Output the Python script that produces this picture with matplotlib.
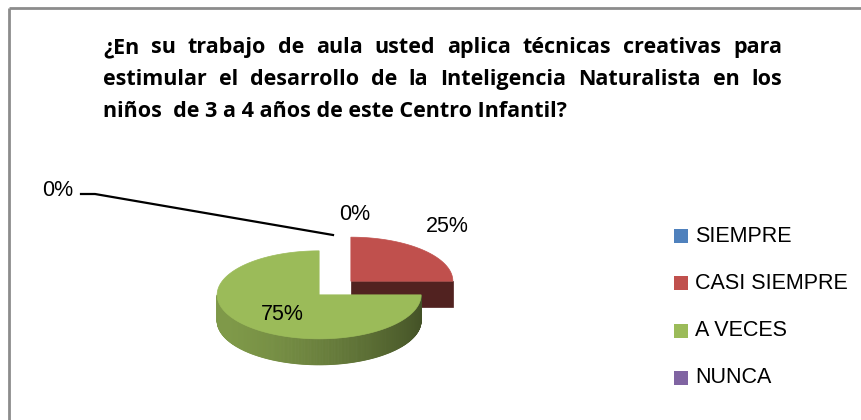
import numpy as np
import matplotlib.pyplot as plt
from matplotlib.patches import Polygon, Rectangle
from matplotlib.colors import to_rgb

plt.rcParams['font.family'] = ['Liberation Sans', 'DejaVu Sans']

# ---------------------------------------------------------
# data
# ---------------------------------------------------------
categories = ["SIEMPRE", "CASI SIEMPRE", "A VECES", "NUNCA"]
values = [0, 25, 75, 0]
colors = ["#4F81BD", "#C0504D", "#9BBB59", "#8064A2"]
title_lines = [
    "¿En su trabajo de aula usted aplica técnicas creativas para",
    "estimular el desarrollo de la Inteligencia Naturalista  en los",
    "niños  de 3 a 4 años de este Centro Infantil?",
]

# label positions (pixels) for each category's percentage
label_pos = [(355, 214), (447, 226), (282, 314), (58, 190)]

# ---------------------------------------------------------
# figure: one axes in pixel coordinates
# ---------------------------------------------------------
W, H = 862, 420
fig = plt.figure(figsize=(W / 100, H / 100), dpi=100)
ax = fig.add_axes([0, 0, 1, 1])
ax.set_xlim(0, W)
ax.set_ylim(H, 0)
ax.axis('off')

# chart frame (only left and top visible)
ax.plot([9, 9], [H, 7.5], color="#8C8C8C", lw=2, solid_capstyle='butt')
ax.plot([9, W], [7.5, 7.5], color="#8C8C8C", lw=2, solid_capstyle='butt')

# ---------------------------------------------------------
# title, justified like the original
# ---------------------------------------------------------
renderer = fig.canvas.get_renderer()
x0, x1 = 103, 782
title_base = [53, 85, 117]
title_kw = dict(fontsize=15.5, fontweight='bold', va='baseline', ha='left',
                color='black', family=['Open Sans', 'DejaVu Sans'])
for i, line in enumerate(title_lines):
    if i < len(title_lines) - 1:
        words = line.split()
        texts = [ax.text(0, title_base[i], w, **title_kw) for w in words]
        widths = [t.get_window_extent(renderer).width for t in texts]
        gap = (x1 - x0 - sum(widths)) / (len(words) - 1)
        x = x0
        for t, w in zip(texts, widths):
            t.set_x(x)
            x += w + gap
    else:
        ax.text(x0, title_base[i], line, **title_kw)

# ---------------------------------------------------------
# 3D pie (exploded, Excel style)
# ---------------------------------------------------------
cx, cy = 335, 288
rx, ry = 102, 44
depth = 26
explode = 0.22


def shade(c, f):
    r, g, b = to_rgb(c)
    return (r * f, g * f, b * f)


def pt(ox, oy, t, dz=0.0):
    return (ox + rx * np.cos(t), oy - ry * np.sin(t) + dz)


total = sum(values)
fracs = [v / total for v in values]
cum = np.concatenate([[0], np.cumsum(fracs)])
slices = []
for i, f in enumerate(fracs):
    if f == 0:
        continue
    ts = np.deg2rad(90 - cum[i] * 360)
    te = np.deg2rad(90 - cum[i + 1] * 360)
    mid = 0.5 * (ts + te)
    ox = cx + explode * rx * np.cos(mid)
    oy = cy - explode * ry * np.sin(mid)
    slices.append((np.sin(mid), i, ts, te, ox, oy))

# back slices first
slices.sort(key=lambda s: -s[0])

for _, i, ts, te, ox, oy in slices:
    col = colors[i]
    # radial faces
    for t, nrm in ((ts, ts + np.pi / 2), (te, te - np.pi / 2)):
        if np.sin(nrm) < -1e-6:
            p = pt(ox, oy, t)
            poly = [(ox, oy), p, (p[0], p[1] + depth), (ox, oy + depth)]
            ax.add_patch(Polygon(poly, closed=True, fc=shade(col, 0.42),
                                 ec=shade(col, 0.42), lw=0.5))
    # curved outer wall, front half only
    angs = np.linspace(te, ts, 400)
    front = angs[np.sin(angs) < 0]
    for a, b in zip(front[:-1], front[1:]):
        m = 0.5 * (a + b)
        f = 0.42 + 0.4 * (np.cos(m - np.deg2rad(200)) + 1) / 2
        pa, pb = pt(ox, oy, a), pt(ox, oy, b)
        poly = [pa, pb, (pb[0], pb[1] + depth), (pa[0], pa[1] + depth)]
        ax.add_patch(Polygon(poly, closed=True, fc=shade(col, f),
                             ec=shade(col, f), lw=0.6))
    # top surface
    arc = np.linspace(ts, te, 200)
    top = [(ox, oy)] + [pt(ox, oy, t) for t in arc]
    ax.add_patch(Polygon(top, closed=True, fc=col, ec=col, lw=0.5))

# percentage labels
for i, v in enumerate(values):
    x, y = label_pos[i]
    ax.text(x, y, f"{fracs[i] * 100:.0f}%", fontsize=15.5, ha='center',
            va='center', color='black')

# leader line for the moved 0% label
ax.plot([81, 95, 333], [194, 194, 235], color='black', lw=1.6)

# ---------------------------------------------------------
# legend
# ---------------------------------------------------------
leg_y0, leg_dy = 236, 47.3
for i, (cat, col) in enumerate(zip(categories, colors)):
    y = leg_y0 + i * leg_dy
    ax.add_patch(Rectangle((674, y - 7), 14, 14, fc=col, ec='none'))
    ax.text(695, y, cat, fontsize=15.5, va='center', ha='left', color='black')

fig.savefig("out.png", dpi=100)
